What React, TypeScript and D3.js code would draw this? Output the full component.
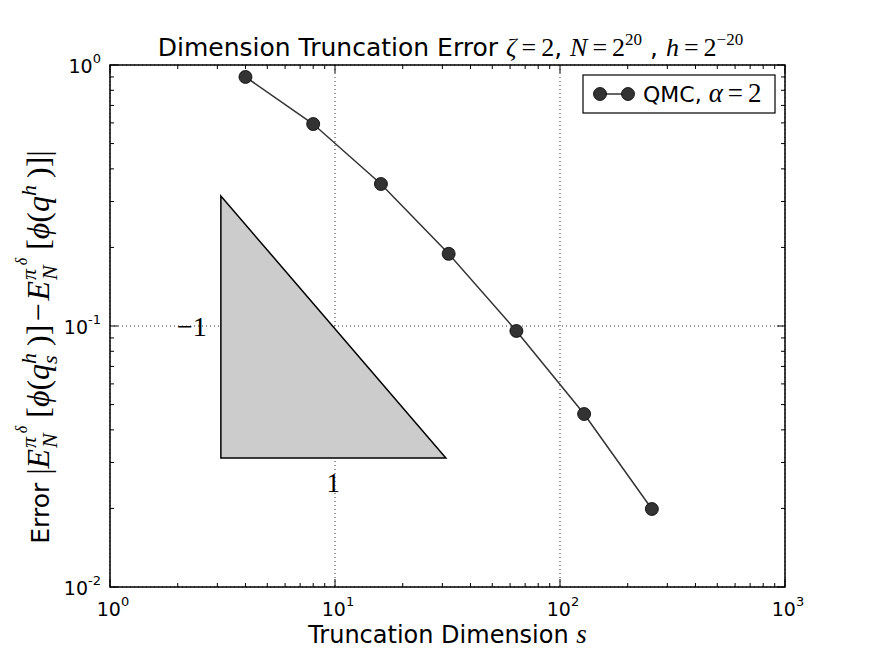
import React, { useEffect, useRef } from 'react';
import * as d3 from 'd3';

// truncation dimension s and measured error
const dims = [4, 8, 16, 32, 64, 128, 256];
const errors = [0.9, 0.594, 0.35, 0.189, 0.0957, 0.046, 0.0199];
const xTickExps = [0, 1, 2, 3];
const yTickExps = [-2, -1, 0];
// slope triangle (one decade each way)
const triX = [3.11, 31.1];
const triY = [0.0312, 0.315];
const seriesName = 'QMC, ';

type Part = { t: string; s: number; f: 'sans' | 'serif' | 'ital'; dy?: number };
type Seg = Part[] | number; // a number is a horizontal gap in px

const FAM = { sans: 'DejaVu Sans', serif: 'Liberation Serif', ital: 'Liberation Serif' };

const App = () => {
  const ref = useRef<SVGSVGElement>(null);

  useEffect(() => {
    document.body.style.margin = '0';
    drawChart();
  }, []);

  const rich = (parent: any, segs: Seg[], x: number, y: number, anchor: string, rot = 0) => {
    const g = parent.append('g').attr('transform', `translate(${x},${y}) rotate(${rot})`);
    const inner = g.append('g');
    let cursor = 0;
    segs.forEach(seg => {
      if (typeof seg === 'number') { cursor += seg; return; }
      let maxw = 0;
      seg.forEach(p => {
        const t = inner.append('text')
          .attr('x', cursor)
          .attr('y', p.dy || 0)
          .attr('font-family', FAM[p.f])
          .attr('font-style', p.f === 'ital' ? 'italic' : 'normal')
          .attr('font-size', p.s)
          .attr('fill', '#000')
          .style('white-space', 'pre')
          .text(p.t);
        const w = (t.node() as SVGTextElement).getComputedTextLength();
        maxw = Math.max(maxw, w);
      });
      cursor += maxw;
    });
    const off = anchor === 'middle' ? -cursor / 2 : anchor === 'end' ? -cursor : 0;
    inner.attr('transform', `translate(${off},0)`);
  };

  const drawChart = () => {
    const svg = d3.select(ref.current);
    svg.selectAll('*').remove();

    const margin = { top: 65, right: 87, bottom: 67, left: 110 };
    const width = 872 - margin.left - margin.right;
    const height = 654 - margin.top - margin.bottom;

    const g = svg.append('g').attr('transform', `translate(${margin.left},${margin.top})`);

    const x = d3.scaleLog().domain([1, 1000]).range([0, width]);
    const y = d3.scaleLog().domain([0.01, 1]).range([height, 0]);

    // dotted grid at majors
    xTickExps.forEach(e => {
      g.append('line')
        .attr('x1', x(10 ** e)).attr('x2', x(10 ** e))
        .attr('y1', 0).attr('y2', height)
        .attr('stroke', '#000').attr('stroke-width', 0.8)
        .attr('stroke-dasharray', '1,3');
    });
    yTickExps.forEach(e => {
      g.append('line')
        .attr('x1', 0).attr('x2', width)
        .attr('y1', y(10 ** e)).attr('y2', y(10 ** e))
        .attr('stroke', '#000').attr('stroke-width', 0.8)
        .attr('stroke-dasharray', '1,3');
    });

    // slope triangle
    g.append('path')
      .attr('d', `M${x(triX[0])},${y(triY[1])}L${x(triX[0])},${y(triY[0])}L${x(triX[1])},${y(triY[0])}Z`)
      .attr('fill', '#cccccc')
      .attr('stroke', '#000')
      .attr('stroke-width', 1.5);

    const gm = (a: number, b: number) => Math.sqrt(a * b);
    rich(g, [[{ t: '\u22121', s: 28, f: 'serif' }]], x(triX[0]) - 14, y(gm(triY[0], triY[1])) + 9, 'end');
    rich(g, [[{ t: '1', s: 27, f: 'serif' }]], x(gm(triX[0], triX[1])), y(triY[0]) + 34, 'middle');

    // series
    const line = d3.line<number>()
      .x((d, i) => x(dims[i]))
      .y(d => y(d));
    g.append('path')
      .datum(errors)
      .attr('d', line)
      .attr('fill', 'none')
      .attr('stroke', '#333')
      .attr('stroke-width', 1.5);
    g.selectAll('.pt')
      .data(errors)
      .enter().append('circle')
      .attr('class', 'pt')
      .attr('cx', (d, i) => x(dims[i]))
      .attr('cy', d => y(d))
      .attr('r', 6.5)
      .attr('fill', '#333')
      .attr('stroke', '#000')
      .attr('stroke-width', 0.8);

    // ticks on all sides, inside
    const minors = (lo: number, hi: number) => {
      const out: number[] = [];
      for (let e = lo; e < hi; e++) for (let k = 2; k <= 9; k++) out.push(k * 10 ** e);
      return out;
    };
    const tick = (x1: number, y1: number, x2: number, y2: number) =>
      g.append('line').attr('x1', x1).attr('y1', y1).attr('x2', x2).attr('y2', y2)
        .attr('stroke', '#000').attr('stroke-width', 1);
    xTickExps.forEach(e => { const px = x(10 ** e); tick(px, height, px, height - 8); tick(px, 0, px, 8); });
    minors(0, 3).forEach(v => { const px = x(v); tick(px, height, px, height - 4); tick(px, 0, px, 4); });
    yTickExps.forEach(e => { const py = y(10 ** e); tick(0, py, 8, py); tick(width, py, width - 8, py); });
    minors(-2, 0).forEach(v => { const py = y(v); tick(0, py, 4, py); tick(width, py, width - 4, py); });

    g.append('rect')
      .attr('width', width).attr('height', height)
      .attr('fill', 'none').attr('stroke', '#000').attr('stroke-width', 1.5);

    // tick labels
    const pow = (e: number): Seg[] => [
      [{ t: '10', s: 19, f: 'sans' }],
      [{ t: e < 0 ? `-${-e}` : `${e}`, s: 13, f: 'sans', dy: -10 }],
    ];
    xTickExps.forEach(e => rich(g, pow(e), x(10 ** e) + 3, height + 29, 'middle'));
    yTickExps.forEach(e => rich(g, pow(e), -9, y(10 ** e) + 8, 'end'));

    // legend
    const lg = g.append('g').attr('transform', `translate(${width - 202},10)`);
    lg.append('rect').attr('width', 192).attr('height', 38)
      .attr('fill', '#fff').attr('stroke', '#000').attr('stroke-width', 1.2);
    lg.append('line').attr('x1', 17).attr('x2', 45).attr('y1', 19).attr('y2', 19)
      .attr('stroke', '#333').attr('stroke-width', 1.5);
    [17, 45].forEach(cx => lg.append('circle').attr('cx', cx).attr('cy', 19).attr('r', 6.5)
      .attr('fill', '#333').attr('stroke', '#000').attr('stroke-width', 0.8));
    rich(lg, [
      [{ t: seriesName, s: 22, f: 'sans' }],
      [{ t: '\u03b1', s: 27, f: 'ital' }],
      5,
      [{ t: '=', s: 27, f: 'serif' }],
      5,
      [{ t: '2', s: 27, f: 'serif' }],
    ], 60, 27, 'start');

    // title
    const eq = (s: number): Seg[] => [5, [{ t: '=', s, f: 'serif' }], 5];
    rich(svg, [
      [{ t: 'Dimension Truncation Error ', s: 25, f: 'sans' }],
      [{ t: '\u03b6', s: 26, f: 'ital' }],
      ...eq(26),
      [{ t: '2', s: 26, f: 'serif' }],
      [{ t: ', ', s: 25, f: 'sans' }],
      [{ t: 'N', s: 26, f: 'ital' }],
      ...eq(26),
      [{ t: '2', s: 26, f: 'serif' }],
      [{ t: '20', s: 17, f: 'serif', dy: -11 }],
      [{ t: ' , ', s: 25, f: 'sans' }],
      [{ t: 'h', s: 26, f: 'ital' }],
      ...eq(26),
      [{ t: '2', s: 26, f: 'serif' }],
      [{ t: '\u221220', s: 17, f: 'serif', dy: -11 }],
    ], margin.left + width / 2 + 3, 56, 'middle');

    // x label
    rich(svg, [
      [{ t: 'Truncation Dimension ', s: 24, f: 'sans' }],
      [{ t: 's', s: 27, f: 'ital' }],
    ], margin.left + width / 2, 643, 'middle');

    // y label
    const M = 32;
    const S = 22;
    const E: Seg[] = [
      [{ t: 'E', s: M, f: 'ital' }],
      1,
      [
        { t: '\u03c0', s: S, f: 'ital', dy: -13 },
        { t: 'N', s: S, f: 'ital', dy: 8 },
      ],
      [{ t: '\u03b4', s: 16, f: 'ital', dy: -22 }],
      8,
    ];
    rich(svg, [
      [{ t: 'Error ', s: 25, f: 'sans' }],
      [{ t: '|', s: M, f: 'serif' }],
      ...E,
      [{ t: '[', s: M, f: 'serif' }],
      [{ t: '\u03d5', s: M, f: 'ital' }],
      [{ t: '(', s: M, f: 'serif' }],
      [{ t: 'q', s: M, f: 'ital' }],
      [
        { t: 'h', s: S, f: 'ital', dy: -13 },
        { t: 's', s: S, f: 'ital', dy: 8 },
      ],
      7,
      [{ t: ')]', s: M, f: 'serif' }],
      3,
      [{ t: '\u2212', s: M, f: 'serif' }],
      3,
      ...E,
      [{ t: '[', s: M, f: 'serif' }],
      [{ t: '\u03d5', s: M, f: 'ital' }],
      [{ t: '(', s: M, f: 'serif' }],
      [{ t: 'q', s: M, f: 'ital' }],
      [{ t: 'h', s: S, f: 'ital', dy: -13 }],
      7,
      [{ t: ')]|', s: M, f: 'serif' }],
    ], 49, margin.top + height / 2 + 21, 'middle', -90);
  };

  return <svg ref={ref} width={872} height={654} style={{ display: 'block', background: '#fff' }} />;
};

export default App;
